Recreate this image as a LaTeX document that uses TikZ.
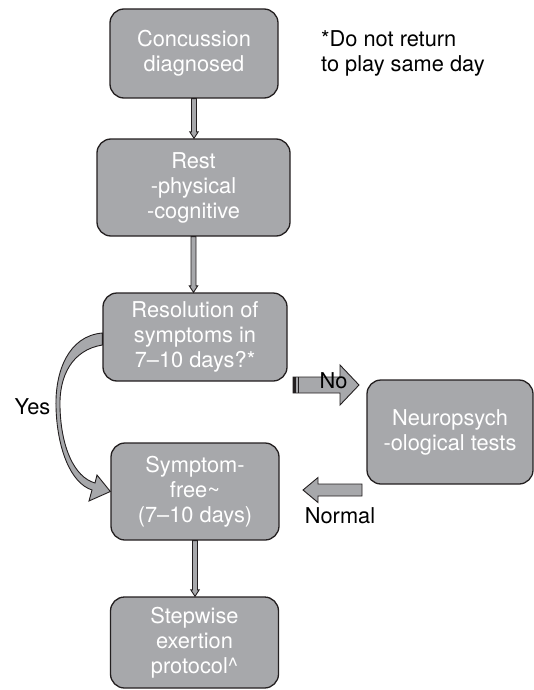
\documentclass[tikz,border=0pt]{standalone}
\usepackage{fontspec}
\setmainfont{TeX Gyre Heros}
\usetikzlibrary{calc}
\definecolor{boxgray}{HTML}{A7A8AB}
\definecolor{edge}{HTML}{231F20}
\newcommand\vblk[2]{%
  \draw[blk] let \p1=(#1.south), \p2=(#2.north) in
    (\x1-2.5pt,\y1) -- (\x1-2.5pt,\y2+6.5pt) -- (\x1-4.2pt,\y2+6.5pt) -- (\x1,\y2)
    -- (\x1+4.2pt,\y2+6.5pt) -- (\x1+2.5pt,\y2+6.5pt) -- (\x1+2.5pt,\y1) -- cycle;}
\newcommand\hblk[5]{%
  \draw[blk] let \p1=(#1), \p2=(#2) in
    ({\x1},{\y1+#3}) -- ({\x2-(#5)},{\y1+#3}) -- ({\x2-(#5)},{\y1+#4}) -- ({\x2},{\y1})
    -- ({\x2-(#5)},{\y1-#4}) -- ({\x2-(#5)},{\y1-#3}) -- ({\x1},{\y1-#3}) -- cycle;}
\begin{document}
\begin{tikzpicture}[x=1pt,y=-1pt,
  box/.style={draw=edge, line width=1.3pt, fill=boxgray, rounded corners=14pt,
    text=white, align=center, inner sep=0pt, font=\fontsize{21.8}{25}\selectfont},
  blk/.style={draw=edge, line width=0.9pt, fill=boxgray, line join=miter},
  lbl/.style={text=black, inner sep=0pt, font=\fontsize{21.8}{25}\selectfont}]
\useasboundingbox (0,0) rectangle (534,690);
% boxes
\node[box, minimum width=168pt, minimum height=89pt] (b1) at (194,53.5) {Concussion\\diagnosed};
\node[box, minimum width=193pt, minimum height=97pt] (b2) at (193.5,187.5) {Rest\\-physical\\-cognitive};
\node[box, minimum width=184pt, minimum height=88pt] (b3) at (195,337) {Resolution of\\symptoms in\\7–10 days?*};
\node[box, minimum width=168pt, minimum height=97pt] (b4) at (195,491.5) {Symptom-\\free\textasciitilde\\(7–10 days)};
\node[box, minimum width=168pt, minimum height=91pt] (b5) at (194.5,642.5) {Stepwise\\exertion\\protocol\textasciicircum};
\node[box, minimum width=166pt, minimum height=104pt] (b6) at (450,432) {Neuropsych\\-ological tests};
% note
\node[lbl, anchor=west, align=left] (note) at (321,53) {*Do not return\\to play same day};
% vertical arrows
\vblk{b1}{b2}
\vblk{b2}{b3}
\vblk{b4}{b5}
% No arrow
\coordinate (noS) at (293,385);
\coordinate (noE) at (359,385);
\hblk{noS}{noE}{8pt}{20pt}{19pt}
\fill[edge] (293,377) rectangle (296.2,393);
\draw[edge, line width=1pt] (298.6,377) -- (298.6,393);
\node[lbl] (no) at (333.5,381) {No};
% Normal arrow
\coordinate (nmS) at (362,490);
\coordinate (nmE) at (303,490);
\hblk{nmS}{nmE}{6pt}{12.5pt}{-15pt}
\node[lbl] (normal) at (340,516) {Normal};
% Yes curved arrow
\draw[blk] ($(b3.west)+(0,-4)$) .. controls (68,336) and (55,372) .. (56,407)
   .. controls (57,447) and (70,483) .. (92,490) -- (89,501) -- (b4.west) -- (97,475)
   -- (95,483) .. controls (74,477) and (61,447) .. (60,407)
   .. controls (59,376) and (72,350) .. ($(b3.west)+(0,8)$) -- cycle;
\node[lbl] (yes) at (32.5,407) {Yes};
\end{tikzpicture}
\end{document}
